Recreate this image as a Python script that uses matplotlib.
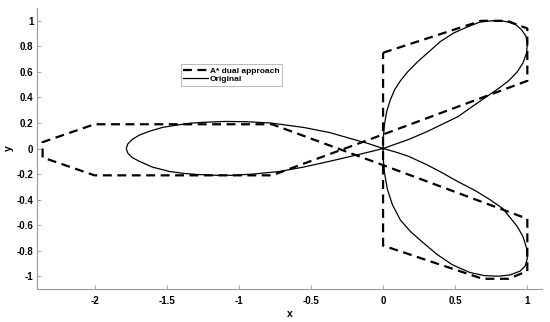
import matplotlib
matplotlib.use('Agg')
import matplotlib.pyplot as plt

# original curve (one closed loop through the origin)
orig_x = [0, -0.1, -0.2, -0.37, -0.55, -0.78, -0.95, -1.1, -1.25, -1.34, -1.45, -1.53, -1.62, -1.69, -1.74, -1.77, -1.78,
          -1.77, -1.74, -1.69, -1.6, -1.48, -1.38, -1.29, -1.15, -1.05, -0.9, -0.72, -0.55, -0.37, -0.2, -0.1, 0,
          0.175, 0.3, 0.41, 0.52, 0.62, 0.71, 0.8, 0.87, 0.93, 0.97, 0.995, 1.0, 0.99, 0.96, 0.92, 0.87, 0.82, 0.75,
          0.67, 0.58, 0.49, 0.40, 0.32, 0.24, 0.17, 0.12, 0.08, 0.05, 0.025, 0.01, 0.002, 0,
          0.002, 0.01, 0.03, 0.065, 0.12, 0.19, 0.27, 0.375, 0.48, 0.6, 0.7, 0.8, 0.88, 0.95, 0.985, 1.0, 0.995, 0.97,
          0.93, 0.88, 0.83, 0.74, 0.64, 0.52, 0.41, 0.3, 0.175, 0.08, 0]
orig_y = [0, 0.038, 0.07, 0.125, 0.165, 0.2, 0.21, 0.212, 0.205, 0.198, 0.18, 0.165, 0.135, 0.105, 0.07, 0.035, 0,
          -0.035, -0.07, -0.1, -0.145, -0.18, -0.195, -0.203, -0.21, -0.21, -0.2, -0.18, -0.145, -0.1, -0.055, -0.028, 0,
          0.07, 0.13, 0.19, 0.25, 0.33, 0.40, 0.47, 0.53, 0.6, 0.67, 0.75, 0.82, 0.88, 0.93, 0.97, 0.99, 1.0, 1.0,
          0.99, 0.95, 0.905, 0.84, 0.76, 0.68, 0.6, 0.53, 0.46, 0.38, 0.29, 0.19, 0.09, 0,
          -0.09, -0.19, -0.32, -0.44, -0.56, -0.65, -0.73, -0.83, -0.91, -0.97, -0.995, -1.0, -0.99, -0.96, -0.92, -0.86,
          -0.78, -0.69, -0.61, -0.54, -0.47, -0.4, -0.33, -0.26, -0.19, -0.125, -0.06, -0.025, 0]

# A* dual approach waypoints
astar_x = [0, 0.68, 0.86, 1.0, 1.0, 0, -0.77, -2.0, -2.36, -2.36, -2.0, -0.77, 0, 1.0, 1.0, 0.87, 0.69, 0, 0]
astar_y = [0.75, 1.0, 1.0, 0.94, 0.53, 0.11, -0.21, -0.21, -0.07, 0.05, 0.19, 0.19, -0.13, -0.55, -0.96, -1.02, -1.02, -0.76, 0.75]

plt.rcParams['font.family'] = 'Liberation Sans'
plt.rcParams['font.weight'] = 'bold'

fig = plt.figure(figsize=(5.5, 3.22), dpi=100)
ax = fig.add_axes([0.067, 0.1025, 0.918, 0.8725])

ax.plot(astar_x, astar_y, color='black', ls=(0, (4, 2.5)), linewidth=1.6, label='A* dual approach')
ax.plot(orig_x, orig_y, color='black', linewidth=0.9, label='Original')

ax.set_xlim(-2.4, 1.1)
ax.set_ylim(-1.1, 1.1)
ax.set_xticks([-2, -1.5, -1, -0.5, 0, 0.5, 1])
ax.set_yticks([-1, -0.8, -0.6, -0.4, -0.2, 0, 0.2, 0.4, 0.6, 0.8, 1])
ax.set_xticklabels(['-2', '-1.5', '-1', '-0.5', '0', '0.5', '1'])
ax.set_yticklabels(['-1', '-0.8', '-0.6', '-0.4', '-0.2', '0', '0.2', '0.4', '0.6', '0.8', '1'])

for s in ['top', 'right']:
    ax.spines[s].set_visible(False)
for s in ['left', 'bottom']:
    ax.spines[s].set_color('#999999')
    ax.spines[s].set_linewidth(0.8)
ax.tick_params(direction='in', length=3, width=0.6, color='#999999', labelsize=7)
ax.tick_params(axis='y', pad=2.5)
ax.tick_params(axis='x', pad=5)
for lab in ax.get_xticklabels() + ax.get_yticklabels():
    lab.set_fontweight('bold')

ax.set_xlabel('x', fontsize=7.5, fontweight='bold', labelpad=2)
ax.set_ylabel('y', fontsize=7.5, fontweight='bold', labelpad=2)

leg = ax.legend(loc='upper left', bbox_to_anchor=(0.285, 0.80), fontsize=6, frameon=True, fancybox=False,
                handlelength=3.0, handletextpad=0.2, borderpad=0.3, labelspacing=0.1, borderaxespad=0)
leg.get_frame().set_edgecolor('#999999')
leg.get_frame().set_linewidth(0.6)
for t in leg.get_texts():
    t.set_fontweight('bold')

fig.savefig('out.png', dpi=100)
